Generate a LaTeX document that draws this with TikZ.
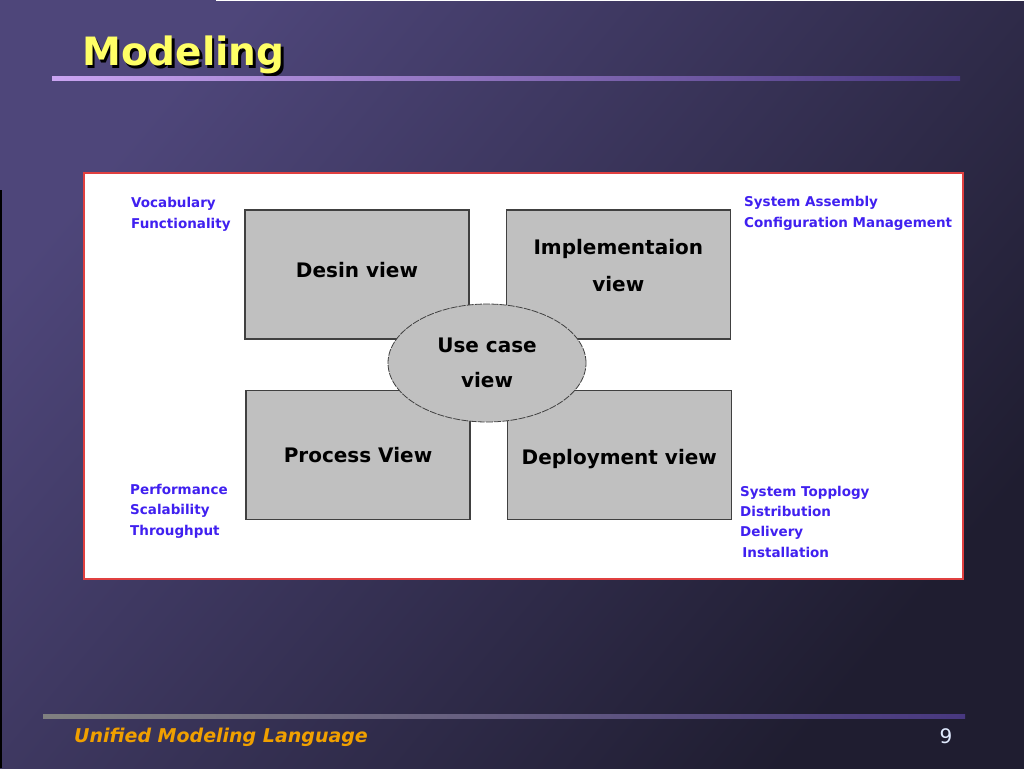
\documentclass[tikz,border=0pt]{standalone}
\usepackage{fontspec}
\setmainfont{DejaVu Sans}
\usepackage{xcolor}
\usetikzlibrary{shapes.geometric,positioning}
\definecolor{slidepurple}{RGB}{78,70,122}
\definecolor{slidedark}{RGB}{31,29,48}
\definecolor{titleyellow}{RGB}{255,255,102}
\definecolor{noteblue}{RGB}{64,32,240}
\definecolor{boxgray}{RGB}{192,192,192}
\definecolor{boxline}{RGB}{64,64,64}
\definecolor{footorange}{RGB}{240,160,0}
\definecolor{pagewhite}{RGB}{225,235,255}
\newcommand{\bluenote}[1]{\textcolor{noteblue}{#1}}
\tikzset{
  viewbox/.style={draw=boxline,fill=boxgray,line width=1.3pt,minimum width=224pt,minimum height=129pt,
    inner sep=0pt,align=center,font=\bfseries\fontsize{20}{37}\selectfont},
  note/.style={anchor=base west,inner sep=0pt,align=left,font=\bfseries\fontsize{13.5}{20.3}\selectfont}
}

\begin{document}
\begin{tikzpicture}[x=1pt,y=-1pt]
            \useasboundingbox (0,0) rectangle (1024,768);
            \fill[slidedark] (0,0) rectangle (1024,768);
            \shade[top color=slidepurple,bottom color=slidedark,shading angle=50] (0,0) rectangle (1024,768);
            \fill[white] (216,0) rectangle (1024,1.5);
            \fill[black] (0,190) rectangle (1.5,768);
            % title and rule
            \node[anchor=base west,inner sep=0pt,text=black,font=\bfseries\fontsize{39}{44}\selectfont] (shadow) at (84.5,68.5) {Modeling};
            \node[anchor=base west,inner sep=0pt,text=titleyellow,font=\bfseries\fontsize{39}{44}\selectfont] (title) at (82,66) {Modeling};
            \shade[left color={rgb,255:red,202;green,164;blue,242},right color={rgb,255:red,72;green,56;blue,128}] (52,76) rectangle (960,80);
            % panel
            \draw[draw={rgb,255:red,224;green,64;blue,64},fill=white,line width=1.2pt] (84,173) rectangle (963,579);
            \node[viewbox,text depth=10pt] (design) at (357,274.5) {Desin view};
            \node[viewbox,text depth=19pt,right=36pt of design] (impl) {Implementaion\\view};
            \node[viewbox,below=50pt of design,xshift=1pt] (process) {Process View};
            \node[viewbox,text height=23pt,right=36pt of process] (deploy) {Deployment view};
            \node[draw=boxline,fill=boxgray,ellipse,line width=0.8pt,dash pattern=on 7pt off 1.2pt,minimum width=198pt,minimum height=118pt,
                  inner sep=0pt,align=center,font=\fontsize{20}{35}\selectfont\bfseries] (usecase) at (487,363) {Use case\\view};
            \node[note] (vocab) at (131,228) {\bluenote{Vocabulary}\\\bluenote{Functionality}};
            \node[note] (assembly) at (744,227) {\bluenote{System Assembly}\\\bluenote{Configuration Management}};
            \node[note] (perf) at (130,535) {\bluenote{Performance}\\\bluenote{Scalability}\\\bluenote{Throughput}};
            \node[note] (topo) at (740,557) {\bluenote{System Topplogy}\\\bluenote{Distribution}\\\bluenote{Delivery}\\\bluenote{\,Installation}};
            % footer
            \shade[left color={rgb,255:red,128;green,128;blue,128},right color={rgb,255:red,72;green,56;blue,128}] (43,714) rectangle (965,718);
            \node[anchor=base west,inner sep=0pt,text=footorange,font=\bfseries\itshape\fontsize{19}{22}\selectfont] (footer) at (74,742) {Unified Modeling Language};
            \node[anchor=base,inner sep=0pt,text=pagewhite,font=\fontsize{20}{24}\selectfont] (page) at (946,743) {9};
        \end{tikzpicture}
\end{document}
